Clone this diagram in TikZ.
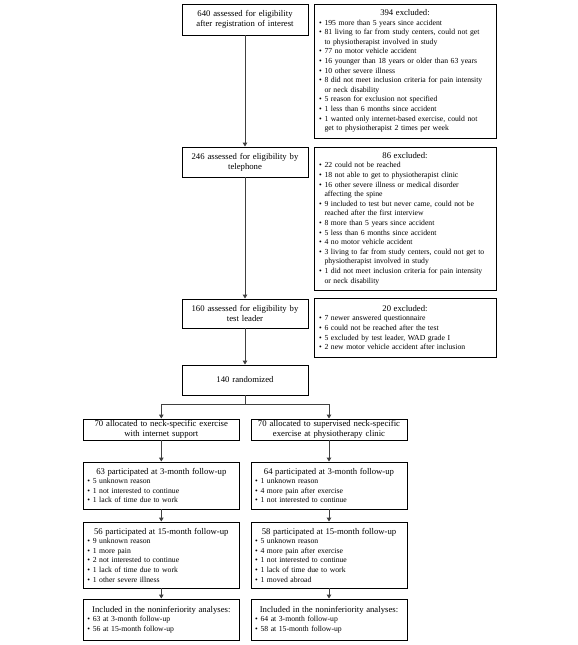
\documentclass[tikz,border=0pt]{standalone}
\usepackage{fontspec}
\setmainfont{Liberation Serif}
\usetikzlibrary{arrows.meta}
\newcommand\hfnt{\fontsize{8.7}{10}\selectfont}
\newcommand\bfnt{\fontsize{7.7}{9.6}\selectfont}
\newcommand\bitem[1]{\par\hangindent=5.5pt\hangafter=1\noindent\makebox[5.5pt][l]{\textbullet}#1\par}
\newcommand\hdr[1]{\centerline{\hfnt #1}}
\tikzset{
  basebox/.style={draw, line width=0.9pt, inner xsep=4pt, inner ysep=0pt},
  mainbox/.style={basebox, text width=118pt, align=center, font=\hfnt},
  exbox/.style={basebox, inner xsep=5pt, text width=172pt, align=left, font=\bfnt},
  armbox/.style={basebox, text width=148pt, align=center, font=\hfnt},
  listbox/.style={basebox, text width=148pt, align=left, font=\bfnt},
  arr/.style={line width=1pt, draw=black!75, -{Triangle[length=4pt,width=4.5pt]}},
  ln/.style={line width=1pt, draw=black!75}
}
\begin{document}
\begin{tikzpicture}[x=1pt,y=-1pt]
\useasboundingbox (0,0) rectangle (578,645);
\node[mainbox, minimum height=31pt] (a1) at (245,19.5) {640 assessed for eligibility\\after registration of interest};
\node[exbox, minimum height=134pt] (e1) at (405,71) {\hdr{394 excluded:}
\bitem{195 more than 5 years since accident}
\bitem{81 living to far from study centers, could not get\newline to physiotherapist involved in study}
\bitem{77 no motor vehicle accident}
\bitem{16 younger than 18 years or older than 63 years}
\bitem{10 other severe illness}
\bitem{8 did not meet inclusion criteria for pain intensity\newline or neck disability}
\bitem{5 reason for exclusion not specified}
\bitem{1 less than 6 months since accident}
\bitem{1 wanted only internet-based exercise, could not\newline get to physiotherapist 2 times per week}};
\node[mainbox, minimum height=30pt] (a2) at (245,162) {246 assessed for eligibility by\\telephone};
\node[exbox, minimum height=143pt] (e2) at (405,218.5) {\hdr{86 excluded:}
\bitem{22 could not be reached}
\bitem{18 not able to get to physiotherapist clinic}
\bitem{16 other severe illness or medical disorder\newline affecting the spine}
\bitem{9 included to test but never came, could not be\newline reached after the first interview}
\bitem{8 more than 5 years since accident}
\bitem{5 less than 6 months since accident}
\bitem{4 no motor vehicle accident}
\bitem{3 living to far from study centers, could not get to\newline physiotherapist involved in study}
\bitem{1 did not meet inclusion criteria for pain intensity\newline or neck disability}};
\node[mainbox, minimum height=29pt] (a3) at (245,313.5) {160 assessed for eligibility by\\test leader};
\node[exbox, minimum height=59pt] (e3) at (405,327.5) {\hdr{20 excluded:}
\bitem{7 newer answered questionnaire}
\bitem{6 could not be reached after the test}
\bitem{5 excluded by test leader, WAD grade I}
\bitem{2 new motor vehicle accident after inclusion}};
\node[mainbox, minimum height=30pt] (a4) at (245,380) {140 randomized};
\coordinate (br) at (245,404);
\node[armbox, minimum height=21pt] (l1) at (161.3,429.5) {70 allocated to neck-specific exercise\\with internet support};
\node[armbox, minimum height=21pt] (r1) at (329,429.5) {70 allocated to supervised neck-specific\\exercise at physiotherapy clinic};
\node[listbox, minimum height=47pt] (l2) at (161.3,485.5) {\hdr{63 participated at 3-month follow-up}
\bitem{5 unknown reason}
\bitem{1 not interested to continue}
\bitem{1 lack of time due to work}};
\node[listbox, minimum height=47pt] (r2) at (329,485.5) {\hdr{64 participated at 3-month follow-up}
\bitem{1 unknown reason}
\bitem{4 more pain after exercise}
\bitem{1 not interested to continue}};
\node[listbox, minimum height=66pt] (l3) at (161.3,555) {\hdr{56 participated at 15-month follow-up}
\bitem{9 unknown reason}
\bitem{1 more pain}
\bitem{2 not interested to continue}
\bitem{1 lack of time due to work}
\bitem{1 other severe illness}};
\node[listbox, minimum height=66pt] (r3) at (329,555) {\hdr{58 participated at 15-month follow-up}
\bitem{5 unknown reason}
\bitem{4 more pain after exercise}
\bitem{1 not interested to continue}
\bitem{1 lack of time due to work}
\bitem{1 moved abroad}};
\node[listbox, minimum height=41pt] (l4) at (161.3,619.5) {\hdr{Included in the noninferiority analyses:}
\bitem{63 at 3-month follow-up}
\bitem{56 at 15-month follow-up}};
\node[listbox, minimum height=41pt] (r4) at (329,619.5) {\hdr{Included in the noninferiority analyses:}
\bitem{64 at 3-month follow-up}
\bitem{58 at 15-month follow-up}};
\draw[arr] (a1) -- (a2);
\draw[arr] (a2) -- (a3);
\draw[arr] (a3) -- (a4);
\draw[ln] (a4) -- (br);
\draw[arr] (br) -| (l1);
\draw[arr] (br) -| (r1);
\draw[arr] (l1) -- (l2);
\draw[arr] (l2) -- (l3);
\draw[arr] (l3) -- (l4);
\draw[arr] (r1) -- (r2);
\draw[arr] (r2) -- (r3);
\draw[arr] (r3) -- (r4);
\end{tikzpicture}
\end{document}
